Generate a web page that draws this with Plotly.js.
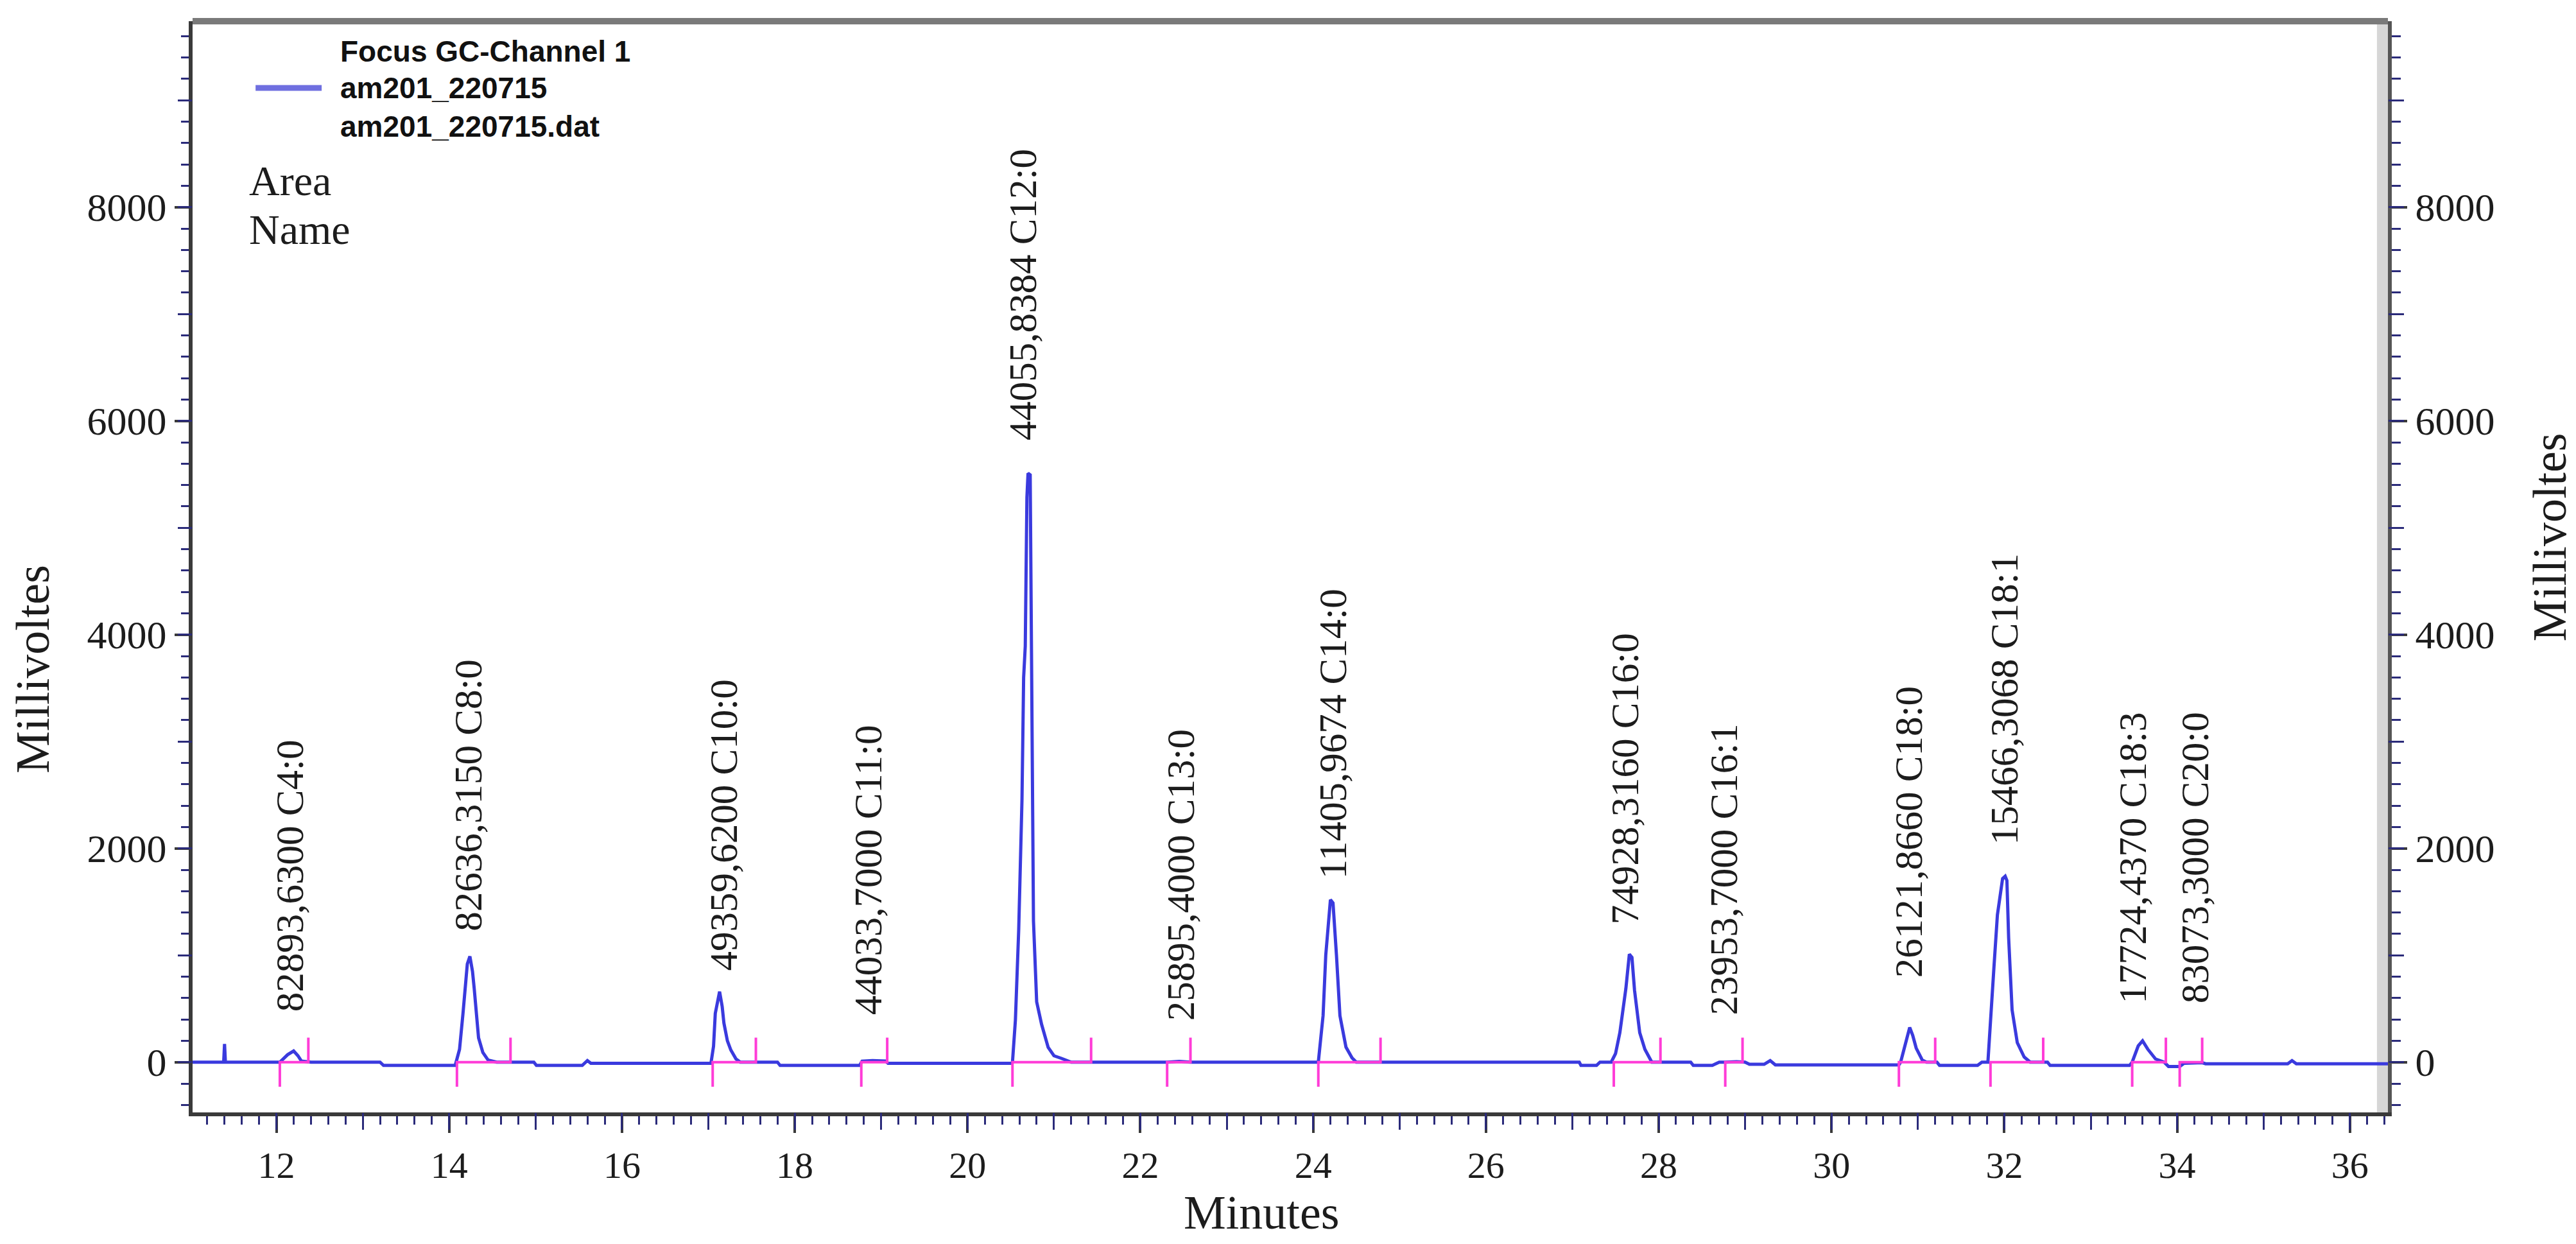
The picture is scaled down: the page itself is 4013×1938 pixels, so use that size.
<!DOCTYPE html>
<html>
<head>
<meta charset="utf-8">
<script src="https://cdn.plot.ly/plotly-3.0.1.min.js"></script>
<style>
  html, body { margin: 0; padding: 0; background: #ffffff; }
  #chart { width: 4013px; height: 1938px; }
</style>
</head>
<body>
<div id="chart"></div>
<script>
// ---- Chromatogram signal (minutes, millivolts) ----
const time = [
  11.03, 11.39, 11.40, 11.41, 12.04,
  12.09, 12.13, 12.20, 12.25, 12.29, 12.40,
  13.20, 13.24, 14.07, 14.08,
  14.12, 14.16, 14.21, 14.24, 14.27, 14.29, 14.34, 14.39, 14.45, 14.55,
  14.98, 15.01, 15.54, 15.60, 15.64,
  17.03, 17.06, 17.08, 17.13, 17.16, 17.18, 17.22, 17.26, 17.32, 17.37,
  17.80, 17.83, 18.75, 18.78, 18.90, 19.05, 19.08,
  20.50, 20.52, 20.554, 20.592, 20.63, 20.649, 20.668, 20.687, 20.70, 20.725, 20.744, 20.763, 20.80, 20.857, 20.933, 21.00, 21.085, 21.20,
  22.31, 22.45, 22.58,
  24.06, 24.115, 24.146, 24.20, 24.23, 24.27, 24.31, 24.38, 24.45, 24.50,
  27.08, 27.10, 27.28, 27.32,
  27.45, 27.50, 27.55, 27.62, 27.66, 27.69, 27.72, 27.78, 27.84, 27.88, 27.92,
  28.37, 28.40, 28.62, 28.70,
  28.77, 28.90, 29.00, 29.05, 29.22, 29.29, 29.35,
  30.78, 30.80, 30.84, 30.905, 30.94, 30.98, 31.05, 31.10, 31.22, 31.25, 31.69, 31.74,
  31.81, 31.85, 31.88, 31.92, 31.98, 32.01, 32.03, 32.05, 32.09, 32.15, 32.23, 32.30,
  32.50, 32.53, 33.45, 33.48,
  33.55, 33.60, 33.66, 33.75, 33.85, 33.90, 34.03, 34.08, 34.29, 34.33,
  35.28, 35.33, 35.38, 36.44
];
const signal = [
  0, 0, 170, 0, 0,
  40, 70, 105, 60, 10, 0,
  0, -30, -30, 0,
  120, 456, 919, 990, 850, 687, 228, 90, 20, 0,
  0, -30, -30, 15, -10,
  -10, 150, 456, 660, 520, 366, 200, 114, 30, 0,
  0, -30, -30, 10, 15, 10, -10,
  -10, 0, 396, 1237, 2456, 3598, 3892, 5285, 5510, 5495, 3598, 1321, 565, 354, 138, 60, 36, 0,
  0, 8, 0,
  0, 436, 1001, 1520, 1490, 1001, 436, 141, 40, 0,
  0, -30, -30, 0,
  0, 80, 276, 691, 1010, 980, 673, 276, 120, 60, 0,
  0, -30, -30, 0,
  0, 5, 0, -20, -20, 15, -25,
  -25, 0, 132, 325, 250, 132, 20, 0, 0, -30, -30, 0,
  0, 459, 889, 1378, 1718, 1740, 1700, 1165, 489, 183, 48, 0,
  0, -30, -30, 0,
  153, 200, 122, 30, 0, -40, -40, -10, -5, -15,
  -15, 15, -15, -15
];

// ---- Peak table ----
const peakAreas = ["82893,6300", "82636,3150", "49359,6200", "44033,7000", "44055,8384", "25895,4000",
                   "11405,9674", "74928,3160", "23953,7000", "26121,8660", "15466,3068", "17724,4370", "83073,3000"];
const peakNames = ["C4:0", "C8:0", "C10:0", "C11:0", "C12:0", "C13:0",
                   "C14:0", "C16:0", "C16:1", "C18:0", "C18:1", "C18:3", "C20:0"];
const labelTime = [12.155, 14.22, 17.18, 18.85, 20.64, 22.47, 24.23, 27.61, 28.75, 30.90, 32.00, 33.49, 34.21];
const labelBase = [462, 1215, 841, 426, 5808, 374, 1701, 1273, 428, 780, 2024, 536, 536];
const peakStart = [12.04, 14.09, 17.05, 18.77, 20.52, 22.31, 24.06, 27.48, 28.77, 30.78, 31.84, 33.48, 34.03];
const peakEnd   = [12.37, 14.71, 17.55, 19.07, 21.43, 22.58, 24.78, 28.02, 28.97, 31.20, 32.45, 33.87, 34.29];

// ---- Axis ticks ----
const yTickVals = [0, 2000, 4000, 6000, 8000];
const xTickVals = [12, 14, 16, 18, 20, 22, 24, 26, 28, 30, 32, 34, 36];

// ---- style constants ----
const X_RANGE = [11.03, 36.44];
const Y_RANGE = [-470, 9740];
const TICK_DOWN = 230, TICK_UP = 230;
const SERIF = "Liberation Serif, Times New Roman, serif";
const SANS = "Liberation Sans, Arial, sans-serif";
const TXT = "#1c1c1c";

// integration markers (start tick below, baseline, end tick above)
const mx = [], my = [];
for (let i = 0; i < peakStart.length; i++) {
  mx.push(peakStart[i], peakStart[i], peakEnd[i], peakEnd[i], null);
  my.push(-TICK_DOWN, 0, 0, TICK_UP, null);
}

const traces = [
  { x: time, y: signal, type: "scatter", mode: "lines", name: "am201_220715",
    line: { color: "rgb(58,58,222)", width: 5 }, showlegend: false, hoverinfo: "x+y" },
  { x: mx, y: my, type: "scatter", mode: "lines", name: "integration",
    line: { color: "rgb(255,60,215)", width: 4 }, showlegend: false, hoverinfo: "skip" },
  // carriers for overlay axes (no data)
  { x: [null], y: [null], xaxis: "x2", yaxis: "y", showlegend: false, hoverinfo: "skip" },
  { x: [null], y: [null], xaxis: "x", yaxis: "y2", showlegend: false, hoverinfo: "skip" },
  { x: [null], y: [null], xaxis: "x", yaxis: "y3", showlegend: false, hoverinfo: "skip" },
  { x: [null], y: [null], xaxis: "x", yaxis: "y4", showlegend: false, hoverinfo: "skip" }
];

const tickFont = { family: SERIF, size: 62, color: TXT };
const xTickFont = { family: SERIF, size: 58, color: TXT };
const NAVY = "#2b2b7a";
const DARK = "#3a3a3a";

const annotations = [];
for (let i = 0; i < peakNames.length; i++) {
  annotations.push({
    x: labelTime[i], y: labelBase[i], xref: "x", yref: "y",
    text: peakAreas[i] + " " + peakNames[i], textangle: -90,
    showarrow: false, xanchor: "center", yanchor: "bottom",
    font: { family: SERIF, size: 61, color: TXT }
  });
}
annotations.push(
  { xref: "paper", yref: "paper", x: 0.0667, y: 0.9724, xanchor: "left", yanchor: "middle",
    text: "<b>Focus GC-Channel 1</b>", showarrow: false, font: { family: SANS, size: 46, color: "#111" } },
  { xref: "paper", yref: "paper", x: 0.0667, y: 0.9388, xanchor: "left", yanchor: "middle",
    text: "<b>am201_220715</b>", showarrow: false, font: { family: SANS, size: 46, color: "#111" } },
  { xref: "paper", yref: "paper", x: 0.0667, y: 0.9035, xanchor: "left", yanchor: "middle",
    text: "<b>am201_220715.dat</b>", showarrow: false, font: { family: SANS, size: 46, color: "#111" } },
  { xref: "paper", yref: "paper", x: 0.0251, y: 0.854, xanchor: "left", yanchor: "middle",
    text: "Area", showarrow: false, font: { family: SERIF, size: 66, color: TXT } },
  { xref: "paper", yref: "paper", x: 0.0251, y: 0.809, xanchor: "left", yanchor: "middle",
    text: "Name", showarrow: false, font: { family: SERIF, size: 66, color: TXT } },
  { xref: "paper", yref: "paper", x: 0.487, y: -0.0915, xanchor: "center", yanchor: "middle",
    text: "Minutes", showarrow: false, borderpad: 0, font: { family: SERIF, size: 74, color: TXT } },
  { xref: "paper", yref: "paper", x: -0.0728, y: 0.406, xanchor: "center", yanchor: "middle",
    text: "Millivoltes", textangle: -90, showarrow: false, font: { family: SERIF, size: 74, color: TXT } },
  { xref: "paper", yref: "paper", x: 1.0737, y: 0.527, xanchor: "center", yanchor: "middle",
    text: "Millivoltes", textangle: -90, showarrow: false, font: { family: SERIF, size: 74, color: TXT } }
);

const shapes = [
  // shaded band along the right edge
  { type: "rect", xref: "paper", yref: "paper", x0: 0.995, x1: 1, y0: 0, y1: 1,
    fillcolor: "#d6d6d6", line: { width: 0 }, layer: "below" },
  // thick top frame
  { type: "line", xref: "paper", yref: "paper", x0: 0, x1: 1, y0: 1, y1: 1,
    line: { color: "#7a7a7a", width: 10 } },
  // legend line sample
  { type: "line", xref: "paper", yref: "paper", x0: 0.0287, x1: 0.0588, y0: 0.9388, y1: 0.9388,
    line: { color: "#6f6fe0", width: 9 } }
];

const layout = {
  width: 4013, height: 1938,
  margin: { l: 300, r: 293, t: 33, b: 205, pad: 0 },
  paper_bgcolor: "#ffffff", plot_bgcolor: "#ffffff",
  showlegend: false,
  xaxis: {
    range: X_RANGE, tickvals: xTickVals, ticktext: xTickVals.map(String),
    ticks: "outside", ticklen: 26, tickwidth: 4, tickcolor: DARK,
    minor: { dtick: 0.2, tick0: 0, ticks: "outside", ticklen: 13, tickwidth: 3, tickcolor: NAVY, showgrid: false },
    showline: true, linecolor: DARK, linewidth: 6, mirror: false,
    showgrid: false, zeroline: false, tickfont: xTickFont
  },
  xaxis2: {
    range: X_RANGE, overlaying: "x", anchor: "y", side: "bottom",
    tick0: 0, dtick: 1, ticks: "outside", ticklen: 26, tickwidth: 3, tickcolor: NAVY,
    showticklabels: false, showgrid: false, zeroline: false, showline: false
  },
  yaxis: {
    range: Y_RANGE, tickvals: yTickVals, ticktext: yTickVals.map(String),
    ticks: "outside", ticklen: 22, tickwidth: 4, tickcolor: DARK,
    minor: { dtick: 200, tick0: 0, ticks: "outside", ticklen: 12, tickwidth: 3, tickcolor: NAVY, showgrid: false },
    showline: true, linecolor: DARK, linewidth: 6,
    showgrid: false, zeroline: false, tickfont: tickFont
  },
  yaxis2: {
    range: Y_RANGE, overlaying: "y", anchor: "x", side: "right",
    tickvals: yTickVals, ticktext: yTickVals.map(String),
    ticks: "outside", ticklen: 24, tickwidth: 4, tickcolor: DARK,
    minor: { dtick: 200, tick0: 0, ticks: "outside", ticklen: 14, tickwidth: 3, tickcolor: NAVY, showgrid: false },
    showline: true, linecolor: "#555555", linewidth: 6,
    showgrid: false, zeroline: false, tickfont: tickFont
  },
  yaxis3: {
    range: Y_RANGE, overlaying: "y", anchor: "x", side: "left",
    tick0: 0, dtick: 1000, ticks: "outside", ticklen: 22, tickwidth: 3, tickcolor: NAVY,
    showticklabels: false, showgrid: false, zeroline: false, showline: false
  },
  yaxis4: {
    range: Y_RANGE, overlaying: "y", anchor: "x", side: "right",
    tick0: 0, dtick: 1000, ticks: "outside", ticklen: 24, tickwidth: 3, tickcolor: NAVY,
    showticklabels: false, showgrid: false, zeroline: false, showline: false
  },
  annotations: annotations,
  shapes: shapes
};

Plotly.newPlot("chart", traces, layout, { staticPlot: true, displayModeBar: false });
</script>
</body>
</html>
